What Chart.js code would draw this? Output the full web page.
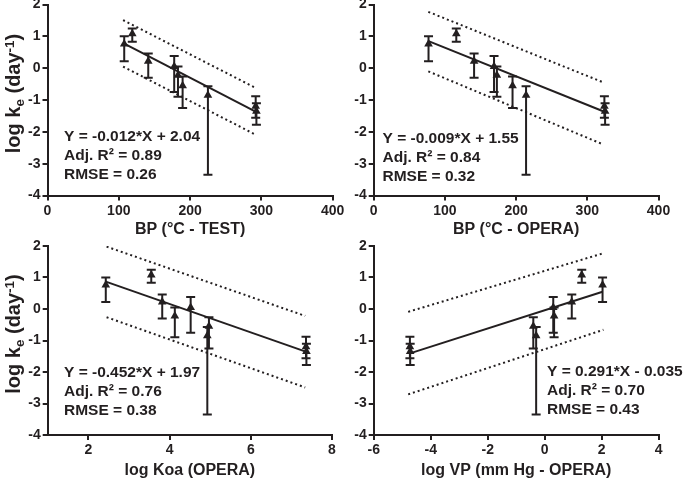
<!DOCTYPE html>
<html><head><meta charset="utf-8">
<script src="https://cdn.jsdelivr.net/npm/chart.js@4.4.1/dist/chart.umd.min.js"></script>
<style>
html,body{margin:0;padding:0;background:#fff;overflow:hidden;width:685px;height:482px;position:relative}
canvas{position:absolute}
</style></head><body>
<canvas id="c1"></canvas><canvas id="c2"></canvas><canvas id="c3"></canvas><canvas id="c4"></canvas>
<script>
// ---- data ----
// log ke (day^-1) per chemical, with error bar ends
const logKe   = [0.76, 1.08, 0.22, 0.05, -0.22, -0.55, -0.85, -1.20, -1.35];
const errLow  = [0.22, 0.83, -0.30, -0.75, -0.90, -1.25, -3.35, -1.56, -1.78];
const errHigh = [1.00, 1.25, 0.46, 0.38, 0.05, -0.26, -0.57, -0.88, -1.10];

// predictors per chemical (same order)
const bpTest  = [107.6, 118.9, 141.3, 177.7, 183.0, 189.5, 225.0, 292.0, 293.0];
const bpOpera = [77, 116, 141, 169, 173, 195, 214, 324, 325];
const logKoa  = [2.43, 3.55, 3.82, 4.52, 4.13, 4.97, 4.93, 7.36, 7.37];
const logVp   = [2.03, 1.30, 0.95, 0.30, 0.33, -0.40, -0.30, -4.73, -4.72];

// fitted lines and prediction bands (end points)
const fitTest   = [[107.6, 0.77], [292.5, -1.37]];
const upTest    = [[106, 1.51], [291, -0.61]];
const lowTest   = [[106, 0.05], [291, -2.08]];
const fitOpera  = [[77, 0.85], [324, -1.37]];
const upOpera   = [[76.7, 1.77], [322.7, -0.45]];
const lowOpera  = [[76.7, -0.10], [322.7, -2.40]];
const fitKoa    = [[2.43, 0.87], [7.37, -1.36]];
const upKoa     = [[2.45, 1.98], [7.34, -0.22]];
const lowKoa    = [[2.45, -0.26], [7.34, -2.49]];
const fitVp     = [[-4.73, -1.41], [2.03, 0.55]];
const upVp      = [[-4.79, -0.09], [2.06, 1.77]];
const lowVp     = [[-4.79, -2.71], [2.06, -0.66]];

// tick labels
const yTicks     = [-4, -3, -2, -1, 0, 1, 2];
const bpTicks    = [0, 100, 200, 300, 400];
const koaTicks   = [2, 4, 6, 8];
const vpTicks    = [-6, -4, -2, 0, 2, 4];

// statistics text
const eqTest  = ['Y = -0.012*X + 2.04', 'Adj. R\u00B2 = 0.89', 'RMSE = 0.26'];
const eqOpera = ['Y = -0.009*X + 1.55', 'Adj. R\u00B2 = 0.84', 'RMSE = 0.32'];
const eqKoa   = ['Y = -0.452*X + 1.97', 'Adj. R\u00B2 = 0.76', 'RMSE = 0.38'];
const eqVp    = ['Y = 0.291*X - 0.035', 'Adj. R\u00B2 = 0.70', 'RMSE = 0.43'];

// ---- styling / layout ----
const INK = '#231f20';
const FAM = "'Liberation Sans', Arial, Helvetica, sans-serif";
Chart.defaults.font.family = FAM;
Chart.defaults.color = INK;

const panels = [
  {id:'c1', cl:0,   ct:-12, cw:370, ch:253, area:{L:47.5, T:4.5, R:332.7, B:195.5},
   xMin:0, xMax:400, xTicks:bpTicks, x:bpTest, fit:fitTest, up:upTest, low:lowTest,
   xTitle:'BP (\u00B0C - TEST)', yTitle:true, yTitleC:93.5, eq:eqTest, eqX:64, eqY:[137,156,175]},
  {id:'c2', cl:300, ct:-12, cw:385, ch:253, area:{L:373.7, T:4.5, R:658.5, B:195.5},
   xMin:0, xMax:400, xTicks:bpTicks, x:bpOpera, fit:fitOpera, up:upOpera, low:lowOpera,
   xTitle:'BP (\u00B0C - OPERA)', yTitle:false, eq:eqOpera, eqX:382.5, eqY:[139,158,177]},
  {id:'c3', cl:0,   ct:229, cw:370, ch:253, area:{L:47.7, T:246, R:332, B:435},
   xMin:1, xMax:8, xTicks:koaTicks, x:logKoa, fit:fitKoa, up:upKoa, low:lowKoa,
   xTitle:'log Koa (OPERA)', yTitle:true, yTitleC:334, eq:eqKoa, eqX:64, eqY:[373,392,411]},
  {id:'c4', cl:300, ct:229, cw:385, ch:253, area:{L:373.7, T:246, R:658.7, B:435},
   xMin:-6, xMax:4, xTicks:vpTicks, x:logVp, fit:fitVp, up:upVp, low:lowVp,
   xTitle:'log VP (mm Hg - OPERA)', yTitle:false, eq:eqVp, eqX:547, eqY:[372,391,410]}
];

function toPts(arr){ return arr.map(p => ({x:p[0], y:p[1]})); }

function makeChart(p){
  const cv = document.getElementById(p.id);
  cv.width = p.cw; cv.height = p.ch;
  cv.style.left = p.cl + 'px'; cv.style.top = p.ct + 'px';
  cv.style.width = p.cw + 'px'; cv.style.height = p.ch + 'px';

  const extras = {
    id:'extras_' + p.id,
    beforeDatasetsDraw(chart){
      const ctx = chart.ctx, xs = chart.scales.x, ys = chart.scales.y;
      ctx.save();
      ctx.strokeStyle = INK; ctx.lineWidth = 2; ctx.lineCap = 'butt';
      p.x.forEach((xv, i) => {
        const px = xs.getPixelForValue(xv);
        const pl = ys.getPixelForValue(errLow[i]);
        const ph = ys.getPixelForValue(errHigh[i]);
        ctx.beginPath();
        ctx.moveTo(px, pl); ctx.lineTo(px, ph);
        ctx.moveTo(px - 4.5, pl); ctx.lineTo(px + 4.5, pl);
        ctx.moveTo(px - 4.5, ph); ctx.lineTo(px + 4.5, ph);
        ctx.stroke();
      });
      ctx.restore();
    },
    afterDraw(chart){
      const ctx = chart.ctx;
      ctx.save();
      ctx.fillStyle = INK;
      ctx.font = 'bold 15.5px ' + FAM;
      ctx.textAlign = 'left'; ctx.textBaseline = 'middle';
      p.eq.forEach((t, k) => ctx.fillText(t, p.eqX - p.cl, p.eqY[k] - p.ct));
      if (p.yTitle){
        const fs = 20, small = 13.5;
        const segs = [
          {t:'log k', f:fs, dy:0}, {t:'e', f:small, dy:0.2*fs},
          {t:' (day', f:fs, dy:0}, {t:'-1', f:small, dy:-0.3*fs}, {t:')', f:fs, dy:0}
        ];
        let total = 0;
        segs.forEach(s => { ctx.font = 'bold ' + s.f + 'px ' + FAM; s.w = ctx.measureText(s.t).width; total += s.w; });
        ctx.translate(15 - p.cl, p.yTitleC - p.ct);
        ctx.rotate(-Math.PI / 2);
        ctx.textBaseline = 'alphabetic';
        let x = -total / 2;
        const base = 0.255 * fs;
        segs.forEach(s => { ctx.font = 'bold ' + s.f + 'px ' + FAM; ctx.fillText(s.t, x, base + s.dy); x += s.w; });
      }
      ctx.restore();
    }
  };

  const lineDs = (label, arr, dash) => ({
    type:'line', label, data: toPts(arr), borderColor: INK, borderWidth: 2,
    borderDash: dash, borderCapStyle:'butt', pointRadius: 0, fill: false, tension: 0
  });

  new Chart(cv, {
    type: 'scatter',
    data: { datasets: [
      { label:'log ke', data: p.x.map((xv, i) => ({x: xv, y: logKe[i]})),
        pointStyle:'triangle', pointRadius: 5, backgroundColor: INK, borderColor: INK, borderWidth: 0 },
      lineDs('Fit', p.fit, []),
      lineDs('Upper band', p.up, [2, 3]),
      lineDs('Lower band', p.low, [2, 3])
    ]},
    options: {
      responsive: false, animation: false, devicePixelRatio: 1,
      layout: { padding: { left: 0, top: p.area.T - p.ct, right: p.cl + p.cw - p.area.R, bottom: 0 } },
      plugins: { legend: { display: false }, tooltip: { enabled: false } },
      scales: {
        x: {
          type: 'linear', position: 'bottom', min: p.xMin, max: p.xMax,
          afterBuildTicks: s => { s.ticks = p.xTicks.map(v => ({value: v})); },
          afterFit: s => { s.height = p.ct + p.ch - p.area.B; },
          ticks: { font: { size: 14, weight: 'bold' }, color: INK, padding: 2, maxRotation: 0, autoSkip: false },
          grid: { drawOnChartArea: false, drawTicks: true, tickLength: 5, lineWidth: 2, color: INK },
          border: { display: true, width: 2, color: INK },
          title: { display: true, text: p.xTitle, color: INK, font: { size: 16, weight: 'bold' }, padding: { top: 0, bottom: 1.6 } }
        },
        y: {
          type: 'linear', position: 'left', min: -4, max: 2,
          afterBuildTicks: s => { s.ticks = yTicks.map(v => ({value: v})); },
          afterFit: s => { s.width = p.area.L - p.cl; },
          ticks: { font: { size: 14, weight: 'bold' }, color: INK, padding: 2 },
          grid: { drawOnChartArea: false, drawTicks: true, tickLength: 5, lineWidth: 2, color: INK },
          border: { display: true, width: 2, color: INK }
        }
      }
    },
    plugins: [extras]
  });
}
panels.forEach(makeChart);
</script>
</body></html>
